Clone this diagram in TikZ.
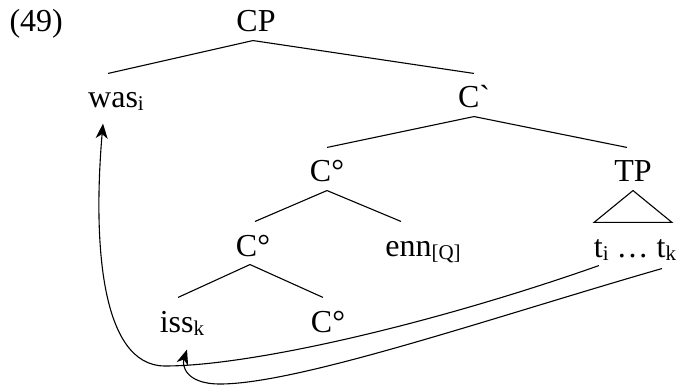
\documentclass[tikz,border=0pt]{standalone}
\usepackage{fontspec}
\setmainfont{Liberation Serif}
\usetikzlibrary{arrows.meta}
\usetikzlibrary{positioning}
\newcommand{\lowsub}[1]{\raisebox{-3pt}{\fontsize{21}{21}\selectfont #1}}

\begin{document}
\begin{tikzpicture}[x=1pt, y=-1pt, line width=1.1pt,
    word/.style={inner sep=0pt, anchor=base, font=\fontsize{32}{38}\selectfont,
      text height=34pt, text depth=8pt},
    move/.style={-{Stealth[length=15pt,width=12pt,inset=4.5pt]}}]
    \useasboundingbox (0,0) rectangle (678,385);

    \node [word, anchor=base west] (ex) at (9,32) {(49)};
    \node [word] (CP) at (256,32) {CP};
    \node [word] (was) at (116,108) {was\lowsub{i}};
    \node [word] (Cbar) at (474,108) {C\textasciigrave};
    \node [word] (Cmid) at (327,182) {C°};
    \node [word] (TP) at (633,182) {TP};
    \node [word] (Clow) at (253,256) {C°};
    \node [word] (enn) at (423,256) {enn\lowsub{[Q]}};
    \node [word] (traces) at (635,257) {t\lowsub{i} … t\lowsub{k}};
    \node [word] (iss) at (182,332) {iss\lowsub{k}};
    \node [word] (Cbot) at (328,332) {C°};

    \draw ([xshift=-3pt]CP.south) -- ([xshift=-8pt]was.north);
    \draw ([xshift=-3pt]CP.south) -- (Cbar.north);
    \draw (Cbar.south) -- (Cmid.north);
    \draw (Cbar.south) -- ([xshift=-6pt]TP.north);
    \draw (Cmid.south) -- ([xshift=2pt]Clow.north);
    \draw (Cmid.south) -- ([xshift=-22pt]enn.north);
    \draw ([xshift=-3pt]Clow.south) -- ([xshift=-4pt]iss.north);
    \draw ([xshift=-3pt]Clow.south) -- ([xshift=-5pt]Cbot.north);
    \draw (TP.south) -- ([xshift=-41pt]traces.north) -- ([xshift=37pt]traces.north) -- cycle;

    % movement arrows
    \draw [move] ([xshift=-36pt]traces.south) .. controls (430,325) and (250,366) .. (165,366)
      .. controls (100,366) and (93,240) .. ([xshift=-13pt,yshift=-7pt]was.south);
    \draw [move] ([xshift=27pt,yshift=-3pt]traces.south) .. controls (500,315) and (300,384) .. (220,384)
      .. controls (185,384) and (182,365) .. ([xshift=5pt,yshift=-9pt]iss.south);
\end{tikzpicture}
\end{document}
